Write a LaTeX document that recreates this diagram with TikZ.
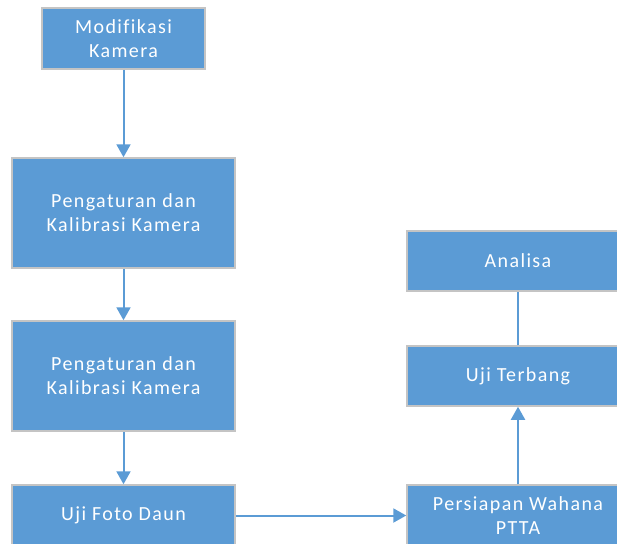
\documentclass[tikz,border=0pt]{standalone}
\usepackage{fontspec}
\setmainfont{Carlito}[LetterSpace=7,Ligatures={NoCommon}]
\usetikzlibrary{arrows.meta}
\definecolor{boxfill}{HTML}{5B9BD5}
\definecolor{boxline}{HTML}{C4C4C4}
\begin{document}
\begin{tikzpicture}[x=1pt,y=-1pt,
  box/.style={draw=boxline,line width=1.5pt,fill=boxfill,text=white,align=center,
    font=\fontsize{20}{24}\selectfont,inner sep=0pt},
  conn/.style={draw=boxfill,line width=2pt},
  arr/.style={conn,-{Triangle[width=14pt,length=13pt]}}]
\useasboundingbox (0,0) rectangle (617,543);
\begin{scope}
\clip (0,0) rectangle (617,543);
\node[box,minimum width=163,minimum height=61] (a) at (123.5,38.5) {Modifikasi\\Kamera};
\node[box,minimum width=223,minimum height=110] (b) at (123.5,213) {Pengaturan dan\\Kalibrasi Kamera};
\node[box,minimum width=223,minimum height=110] (c) at (123.5,376) {Pengaturan dan\\Kalibrasi Kamera};
\node[box,minimum width=223,minimum height=61] (d) at (123.5,515.5) {Uji Foto Daun};
\node[box,minimum width=222,minimum height=60] (e) at (518,261) {Analisa};
\node[box,minimum width=222,minimum height=60] (f) at (518,376) {Uji Terbang};
\node[box,minimum width=222,minimum height=61] (g) at (518,515.5) {Persiapan Wahana\\PTTA};
\draw[arr] (a.south) -- (b.north);
\draw[arr] (b.south) -- (c.north);
\draw[arr] (c.south) -- (d.north);
\draw[arr] (d.east) -- (g.west);
\draw[arr] (g.north) -- (f.south);
\draw[conn] (f.north) -- (e.south);
\end{scope}
\end{tikzpicture}
\end{document}
